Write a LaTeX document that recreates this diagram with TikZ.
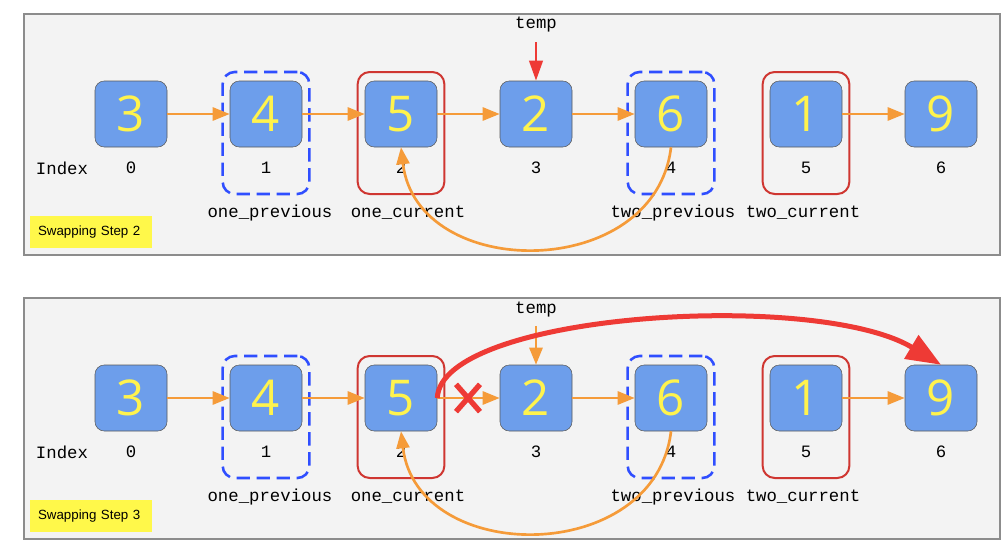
\documentclass[tikz,border=0pt]{standalone}
\usepackage{fontspec}
\setmainfont{Liberation Sans}
\setmonofont{Liberation Mono}
\newfontfamily\digitfont{Open Sans}
\usetikzlibrary{arrows.meta,shapes.misc}
\definecolor{cellblue}{HTML}{6D9EEB}
\definecolor{digityellow}{HTML}{FFF34D}
\definecolor{linkorange}{HTML}{F59B39}
\definecolor{framered}{HTML}{CF3631}
\definecolor{frameblue}{HTML}{2F4EFF}
\definecolor{hotred}{HTML}{EE3A35}
\definecolor{panelgray}{HTML}{F3F3F3}
\definecolor{stepyellow}{HTML}{FFF84A}
\tikzset{
  cell/.style = {draw=black!65, fill=cellblue, rounded corners=7pt,
                 minimum width=54pt, minimum height=49.5pt, inner sep=0pt,
                 text=digityellow, font=\digitfont\fontsize{37}{37}\selectfont},
  mono/.style = {font=\ttfamily\fontsize{13}{13}\selectfont, inner sep=0pt},
  curframe/.style = {draw=framered, line width=1.5pt, rounded corners=9pt,
                     minimum width=65pt, minimum height=91.5pt},
  prevframe/.style = {draw=frameblue, line width=1.9pt, rounded corners=9pt,
                      dash pattern=on 10pt off 5pt,
                      minimum width=65pt, minimum height=91.5pt},
  link/.style = {draw=linkorange, line width=2pt,
                 -{Triangle[length=12.75pt,width=9.75pt]}},
  panel/.style = {draw=black!45, fill=panelgray, line width=0.8pt},
  steplabel/.style = {fill=stepyellow, inner xsep=6pt, inner ysep=0pt,
                      text width=79.5pt, minimum height=24pt, align=left,
                      font=\fontsize{10}{10}\selectfont}
}
\begin{document}
\begin{tikzpicture}[x=0.75pt, y=-0.75pt]
	\useasboundingbox (0,0) rectangle (1008,553);
	
	% Step 2
	\draw[panel] (24,14) rectangle (1000,255);
	
	\node[prevframe] (fa4) at (266,133) {};
	\node[curframe]  (fa5) at (401,133) {};
	\node[prevframe] (fa6) at (671,133) {};
	\node[curframe]  (fa1) at (806,133) {};
	
	\node[cell] (a3) at (131,114) {3};
	\node[cell] (a4) at (266,114) {4};
	\node[cell] (a5) at (401,114) {5};
	\node[cell] (a2) at (536,114) {2};
	\node[cell] (a6) at (671,114) {6};
	\node[cell] (a1) at (806,114) {1};
	\node[cell] (a9) at (941,114) {9};
	
	\node[mono] (ia) at (62,168) {Index};
	\node[mono] (ia0) at (131,168) {0};
	\node[mono] (ia1) at (266,168) {1};
	\node[mono] (ia2) at (401,168) {2};
	\node[mono] (ia3) at (536,168) {3};
	\node[mono] (ia4) at (671,168) {4};
	\node[mono] (ia5) at (806,168) {5};
	\node[mono] (ia6) at (941,168) {6};
	
	\node[mono] (pa1) at (270,213) {one\_previous};
	\node[mono] (pa2) at (408,213) {one\_current};
	\node[mono] (pa3) at (673,213) {two\_previous};
	\node[mono] (pa4) at (803,213) {two\_current};
	\node[mono] (tempa) at (536,25) {temp};
	
	\node[steplabel] (sa) at (91,232) {Swapping Step 2};
	
	\draw[link] (a3) -- (a4);
	\draw[link] (a4) -- (a5);
	\draw[link] (a5) -- (a2);
	\draw[link] (a2) -- (a6);
	\draw[link] (a1) -- (a9);
	\draw[draw=hotred, line width=2.2pt, shorten <=7pt,
	      -{Triangle[length=15pt,width=10pt]}] (tempa) -- (a2);
	\draw[link] (a6.south) .. controls +(-16,135) and +(16,135) .. (a5.south);
	
	% Step 3
	\draw[panel] (24,298) rectangle (1000,539);
	
	\node[prevframe] (fb4) at (266,417) {};
	\node[curframe]  (fb5) at (401,417) {};
	\node[prevframe] (fb6) at (671,417) {};
	\node[curframe]  (fb1) at (806,417) {};
	
	\node[cell] (b3) at (131,398) {3};
	\node[cell] (b4) at (266,398) {4};
	\node[cell] (b5) at (401,398) {5};
	\node[cell] (b2) at (536,398) {2};
	\node[cell] (b6) at (671,398) {6};
	\node[cell] (b1) at (806,398) {1};
	\node[cell] (b9) at (941,398) {9};
	
	\node[mono] (ib) at (62,452) {Index};
	\node[mono] (ib0) at (131,452) {0};
	\node[mono] (ib1) at (266,452) {1};
	\node[mono] (ib2) at (401,452) {2};
	\node[mono] (ib3) at (536,452) {3};
	\node[mono] (ib4) at (671,452) {4};
	\node[mono] (ib5) at (806,452) {5};
	\node[mono] (ib6) at (941,452) {6};
	
	\node[mono] (pb1) at (270,497) {one\_previous};
	\node[mono] (pb2) at (408,497) {one\_current};
	\node[mono] (pb3) at (673,497) {two\_previous};
	\node[mono] (pb4) at (803,497) {two\_current};
	\node[mono] (tempb) at (536,310) {temp};
	
	\node[steplabel] (sb) at (91,516) {Swapping Step 3};
	
	\draw[link] (b3) -- (b4);
	\draw[link] (b4) -- (b5);
	\draw[link] (b5) -- (b2);
	\draw[link] (b2) -- (b6);
	\draw[link] (b1) -- (b9);
	\draw[link, shorten <=6pt] (tempb) -- (b2);
	\draw[link] (b6.south) .. controls +(-16,135) and +(16,135) .. (b5.south);
	\draw[draw=hotred, line width=3.75pt,
	      -{Triangle[length=26pt,width=20pt]}]
	      (b5.east) .. controls +(4,-85) and +(-125,-75) .. (b9.north);
	\node[cross out, draw=hotred, line width=4pt, inner sep=0pt,
	      minimum width=14pt, minimum height=16.5pt] (cut) at (468,398) {};
	
\end{tikzpicture}
\end{document}
